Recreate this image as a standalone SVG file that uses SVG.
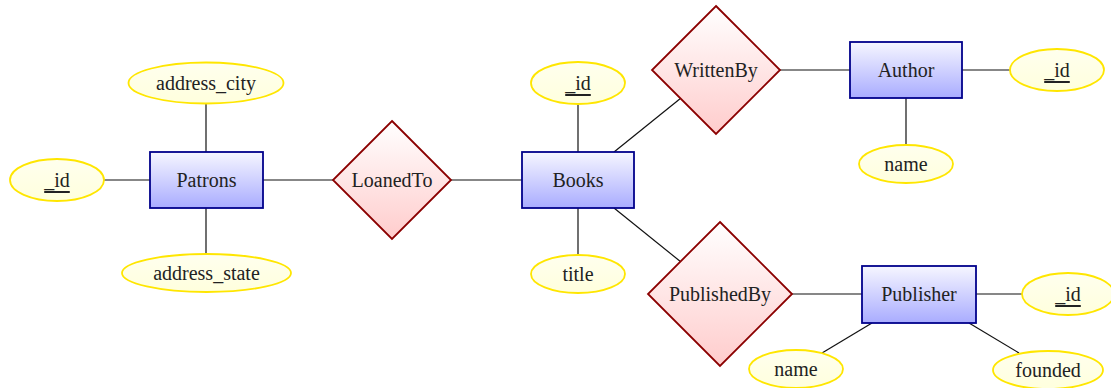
<svg xmlns="http://www.w3.org/2000/svg" width="1111" height="388" viewBox="0 0 1111 388">
<defs>
<linearGradient id="gEnt" x1="0" y1="0" x2="0" y2="1"><stop offset="0" stop-color="#f6f6ff"/><stop offset="1" stop-color="#a9acff"/></linearGradient>
<linearGradient id="gRel" x1="0" y1="0" x2="0" y2="1"><stop offset="0" stop-color="#ffffff"/><stop offset="1" stop-color="#ffcccc"/></linearGradient>
<linearGradient id="gAtt" x1="0" y1="0" x2="0" y2="1"><stop offset="0" stop-color="#ffffee"/><stop offset="1" stop-color="#ffffdd"/></linearGradient>
</defs>
<style>
.ent{fill:url(#gEnt);stroke:#00008b;stroke-width:1.8}
.rel{fill:url(#gRel);stroke:#8b0000;stroke-width:1.8}
.att{fill:url(#gAtt);stroke:#ffe600;stroke-width:1.8}
.lbl{font-size:20px;fill:#222;text-anchor:middle;dominant-baseline:central}
.key{text-decoration:underline}
#connectors line{stroke:#111;stroke-width:1.2}
</style>
<g id="connectors">
<line x1="206" y1="104" x2="206" y2="152"/>
<line x1="104" y1="180" x2="150" y2="180"/>
<line x1="206" y1="208" x2="206" y2="254"/>
<line x1="263" y1="180" x2="333" y2="180"/>
<line x1="451" y1="180" x2="522" y2="180"/>
<line x1="578" y1="104" x2="578" y2="152"/>
<line x1="578" y1="208" x2="578" y2="255"/>
<line x1="614" y1="152" x2="681" y2="98"/>
<line x1="614" y1="208" x2="681" y2="262"/>
<line x1="780" y1="70" x2="850" y2="70"/>
<line x1="962" y1="70" x2="1010" y2="70"/>
<line x1="906" y1="98" x2="906" y2="145"/>
<line x1="792" y1="294" x2="862" y2="294"/>
<line x1="976" y1="294" x2="1022" y2="294"/>
<line x1="872" y1="323" x2="822" y2="353"/>
<line x1="969" y1="323" x2="1019" y2="353"/>
</g>
<g font-family="Liberation Serif, DejaVu Serif, serif">
<g id="patrons"><rect class="ent" x="150" y="152" width="113" height="56"/><text class="lbl" x="206.5" y="180">Patrons</text></g>
<g id="patrons_city"><ellipse class="att" cx="206" cy="83" rx="77.5" ry="20.5"/><text class="lbl" x="206" y="83">address_city</text></g>
<g id="patrons_id"><ellipse class="att" cx="57" cy="180" rx="47" ry="21"/><text class="lbl key" x="57" y="180">_id</text></g>
<g id="patrons_state"><ellipse class="att" cx="206.5" cy="273" rx="84.5" ry="19"/><text class="lbl" x="206.5" y="273">address_state</text></g>
<g id="loanedto"><polygon class="rel" points="392,121 451,180 392,239 333,180"/><text class="lbl" x="392" y="180">LoanedTo</text></g>
<g id="books"><rect class="ent" x="522" y="152" width="112" height="56"/><text class="lbl" x="578" y="180">Books</text></g>
<g id="books_id"><ellipse class="att" cx="578" cy="83" rx="47" ry="21"/><text class="lbl key" x="578" y="83">_id</text></g>
<g id="books_title"><ellipse class="att" cx="578" cy="274" rx="47" ry="19"/><text class="lbl" x="578" y="274">title</text></g>
<g id="writtenby"><polygon class="rel" points="716,6 780,70 716,134 652,70"/><text class="lbl" x="716" y="70">WrittenBy</text></g>
<g id="author"><rect class="ent" x="850" y="42" width="112" height="56"/><text class="lbl" x="906" y="70">Author</text></g>
<g id="author_id"><ellipse class="att" cx="1057" cy="70" rx="47" ry="21"/><text class="lbl key" x="1057" y="70">_id</text></g>
<g id="author_name"><ellipse class="att" cx="906" cy="164" rx="47" ry="19"/><text class="lbl" x="906" y="164">name</text></g>
<g id="publishedby"><polygon class="rel" points="720,222 792,294 720,366 648,294"/><text class="lbl" x="720" y="294">PublishedBy</text></g>
<g id="publisher"><rect class="ent" x="862" y="266" width="114" height="57"/><text class="lbl" x="919" y="294">Publisher</text></g>
<g id="publisher_id"><ellipse class="att" cx="1068" cy="294" rx="46" ry="21"/><text class="lbl key" x="1068" y="294">_id</text></g>
<g id="publisher_name"><ellipse class="att" cx="796" cy="369" rx="47" ry="19"/><text class="lbl" x="796" y="369">name</text></g>
<g id="publisher_founded"><ellipse class="att" cx="1048" cy="370" rx="55" ry="19"/><text class="lbl" x="1048" y="370">founded</text></g>
</g>
</svg>
